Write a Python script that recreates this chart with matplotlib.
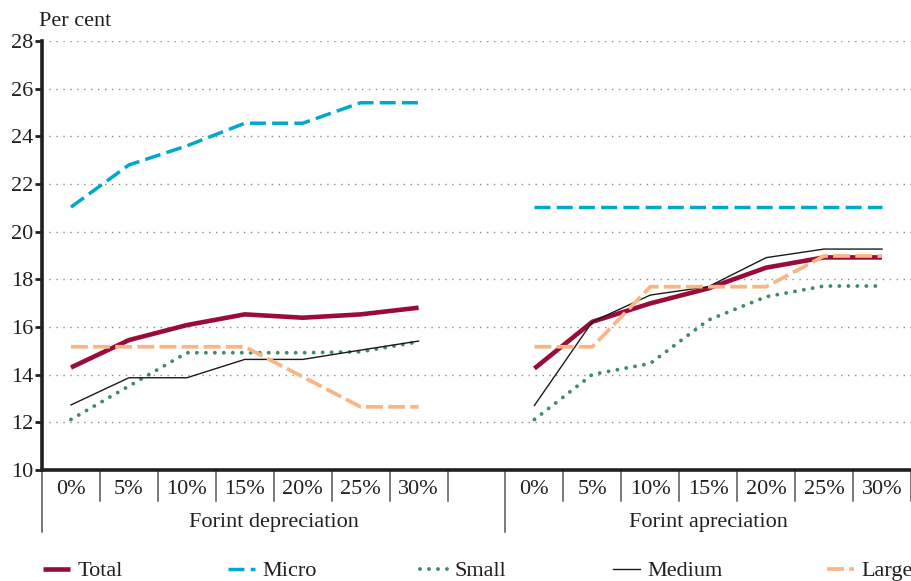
import matplotlib.pyplot as plt
import matplotlib.transforms as mtransforms
from matplotlib.lines import Line2D

plt.rcParams['font.family'] = ['Liberation Serif', 'DejaVu Serif']

# Data (per cent)
tick_labels = ['0%', '5%', '10%', '15%', '20%', '25%', '30%']
groups = ['Forint depreciation', 'Forint apreciation']

total_dep = [14.3, 15.45, 16.08, 16.53, 16.39, 16.53, 16.81]
total_app = [14.26, 16.22, 16.99, 17.62, 18.49, 18.92, 18.92]
micro_dep = [21.03, 22.8, 23.6, 24.55, 24.55, 25.41, 25.41]
micro_app = [21.05, 21.05, 21.05, 21.05, 21.05, 21.05, 21.05]
small_dep = [12.12, 13.52, 14.92, 14.92, 14.92, 14.96, 15.38]
small_app = [12.12, 14.01, 14.47, 16.29, 17.27, 17.72, 17.72]
medium_dep = [12.73, 13.87, 13.87, 14.64, 14.64, 15.03, 15.41]
medium_app = [12.71, 16.22, 17.34, 17.69, 18.91, 19.27, 19.27]
large_dep = [15.17, 15.17, 15.17, 15.17, 13.91, 12.65, 12.65]
large_app = [15.17, 15.17, 17.69, 17.69, 17.69, 18.98, 18.98]

x_dep = list(range(7))
x_app = [i + 8 for i in range(7)]

styles = {
    'Total': dict(color='#9B0B37', lw=3.3, ls='-', solid_capstyle='butt'),
    'Micro': dict(color='#00A8CA', lw=2.5, ls=(0, (4.6, 1.8)), dash_capstyle='butt'),
    'Small': dict(color='#3F8A6D', lw=2.8, ls=(0, (0.01, 2.3)), dash_capstyle='round'),
    'Medium': dict(color='#1a1a1a', lw=1.0, ls='-'),
    'Large': dict(color='#F9B585', lw=2.7, ls=(0, (4.5, 1.4)), dash_capstyle='butt'),
}
series = [
    ('Total', total_dep, total_app),
    ('Micro', micro_dep, micro_app),
    ('Small', small_dep, small_app),
    ('Medium', medium_dep, medium_app),
    ('Large', large_dep, large_app),
]

FS = 16
W, H = 912, 581
fig = plt.figure(figsize=(W / 100, H / 100), dpi=100)
ax = fig.add_axes([42 / W, (H - 470) / H, (911 - 42) / W, (470 - 41) / H])

order = {'Total': 2, 'Micro': 3, 'Small': 4, 'Medium': 5, 'Large': 6}
for name, dep, app in series:
    ax.plot(x_dep, dep, zorder=order[name], **styles[name])
    ax.plot(x_app, app, zorder=order[name], **styles[name])

ax.set_xlim(-0.5, 14.5)
ax.set_ylim(10, 28)
ax.set_yticks(range(10, 29, 2))
ax.yaxis.grid(True, color='#8c8c8c', lw=1.0, ls=(0, (1, 4)))
ax.set_axisbelow(True)

for s in ['top', 'right']:
    ax.spines[s].set_visible(False)
for s in ['left', 'bottom']:
    ax.spines[s].set_linewidth(2.6)
    ax.spines[s].set_color('#231F20')

ax.tick_params(axis='y', length=5, width=2, color='#231F20', labelsize=FS, pad=1,
               labelcolor='#231F20')
ax.set_xticks(x_dep + x_app)
ax.set_xticklabels(tick_labels + tick_labels)
ax.tick_params(axis='x', length=0, labelsize=FS, pad=7, labelcolor='#231F20')

# separators under the axis
tr = mtransforms.blended_transform_factory(ax.transData, ax.transAxes)
h1 = -31 / 429
h2 = -62 / 429
for b in [i - 0.5 for i in range(8)] + [i + 7.5 for i in range(8)]:
    low = h2 if b in (-0.5, 7.5) else h1
    ax.plot([b, b], [0, low], transform=tr, color='#555555', lw=1.1,
            clip_on=False, zorder=1)
ax.text(3.5, -53 / 429, groups[0], transform=tr, ha='center', va='center',
        fontsize=FS, color='#231F20')
ax.text(11.0, -53 / 429, groups[1], transform=tr, ha='center', va='center',
        fontsize=FS, color='#231F20')

fig.text(39 / W, 1 - 21 / H, 'Per cent', ha='left', va='center', fontsize=FS,
         color='#231F20')

# legend, one entry at a time to keep the wide spacing
leg_x = [43, 228, 420, 613, 827]
for (name, _, _), lx in zip(series, leg_x):
    h = Line2D([], [], **styles[name])
    lg = fig.legend([h], [name], loc='center left',
                    bbox_to_anchor=(lx / W, 1 - 571 / H), frameon=False,
                    borderpad=0, borderaxespad=0, handlelength=1.2,
                    handletextpad=0.35, fontsize=FS)
    for t in lg.get_texts():
        t.set_color('#231F20')

fig.savefig('out.png', dpi=100)
